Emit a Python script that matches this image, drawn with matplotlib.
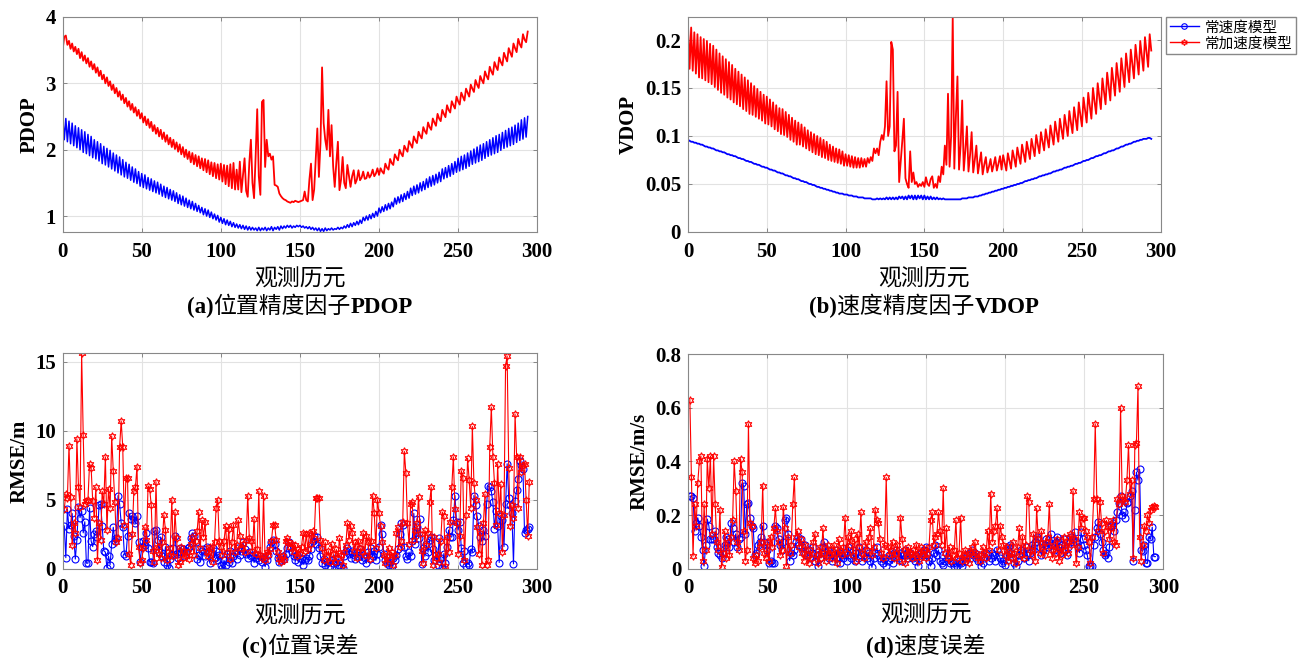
import numpy as np
import matplotlib
matplotlib.use('Agg')
import matplotlib.pyplot as plt
from matplotlib.lines import Line2D

FONT = ['Liberation Serif', 'Noto Sans CJK SC']
plt.rcParams['font.family'] = FONT

# 精度因子 (历元 0..294)
pdop_cv = [
    2.50, 2.15, 2.47, 2.12, 2.43, 2.09, 2.40, 2.06, 2.36, 2.03,
    2.33, 2.00, 2.30, 1.96, 2.27, 1.94, 2.23, 1.91, 2.20, 1.88,
    2.15, 1.86, 2.12, 1.83, 2.09, 1.79, 2.05, 1.77, 2.02, 1.74,
    1.99, 1.71, 1.95, 1.68, 1.92, 1.65, 1.89, 1.62, 1.85, 1.59,
    1.81, 1.57, 1.78, 1.54, 1.74, 1.51, 1.71, 1.49, 1.67, 1.45,
    1.64, 1.43, 1.62, 1.41, 1.58, 1.39, 1.56, 1.37, 1.53, 1.35,
    1.51, 1.33, 1.48, 1.30, 1.45, 1.28, 1.43, 1.26, 1.40, 1.24,
    1.38, 1.22, 1.35, 1.19, 1.32, 1.17, 1.30, 1.15, 1.27, 1.13,
    1.24, 1.11, 1.22, 1.09, 1.19, 1.07, 1.16, 1.05, 1.13, 1.02,
    1.11, 1.00, 1.09, 0.98, 1.06, 0.96, 1.03, 0.94, 1.01, 0.91,
    0.98, 0.89, 0.96, 0.87, 0.94, 0.86, 0.92, 0.84, 0.90, 0.83,
    0.88, 0.82, 0.87, 0.81, 0.86, 0.80, 0.85, 0.79, 0.84, 0.79,
    0.83, 0.79, 0.82, 0.78, 0.83, 0.78, 0.82, 0.79, 0.83, 0.78,
    0.82, 0.79, 0.84, 0.78, 0.83, 0.80, 0.84, 0.79, 0.85, 0.81,
    0.85, 0.82, 0.86, 0.83, 0.86, 0.82, 0.85, 0.83, 0.86, 0.84,
    0.86, 0.83, 0.85, 0.82, 0.84, 0.81, 0.84, 0.80, 0.83, 0.79,
    0.82, 0.78, 0.82, 0.77, 0.81, 0.77, 0.82, 0.78, 0.81, 0.79,
    0.82, 0.79, 0.81, 0.80, 0.83, 0.80, 0.83, 0.81, 0.85, 0.82,
    0.87, 0.83, 0.89, 0.84, 0.90, 0.86, 0.92, 0.87, 0.94, 0.89,
    0.98, 0.93, 1.00, 0.94, 1.02, 0.96, 1.04, 0.98, 1.07, 1.00,
    1.12, 1.05, 1.14, 1.07, 1.17, 1.09, 1.19, 1.11, 1.21, 1.14,
    1.27, 1.18, 1.29, 1.20, 1.32, 1.22, 1.34, 1.25, 1.37, 1.27,
    1.42, 1.31, 1.45, 1.33, 1.47, 1.35, 1.50, 1.38, 1.52, 1.40,
    1.56, 1.43, 1.59, 1.45, 1.61, 1.47, 1.63, 1.50, 1.66, 1.52,
    1.71, 1.56, 1.73, 1.58, 1.76, 1.60, 1.79, 1.63, 1.82, 1.66,
    1.87, 1.68, 1.90, 1.70, 1.92, 1.72, 1.95, 1.75, 1.98, 1.78,
    2.01, 1.80, 2.04, 1.82, 2.07, 1.84, 2.09, 1.87, 2.12, 1.90,
    2.15, 1.92, 2.18, 1.94, 2.21, 1.96, 2.23, 1.99, 2.26, 2.02,
    2.29, 2.04, 2.32, 2.06, 2.34, 2.08, 2.37, 2.11, 2.40, 2.14,
    2.45, 2.16, 2.48, 2.19, 2.50,
]
pdop_ca = [
    3.51, 3.70, 3.72, 3.58, 3.64, 3.52, 3.60, 3.48, 3.55, 3.44,
    3.52, 3.38, 3.47, 3.34, 3.42, 3.30, 3.38, 3.25, 3.33, 3.21,
    3.29, 3.16, 3.24, 3.11, 3.19, 3.06, 3.13, 3.00, 3.09, 2.96,
    3.03, 2.90, 2.98, 2.85, 2.93, 2.80, 2.88, 2.75, 2.83, 2.70,
    2.78, 2.65, 2.73, 2.60, 2.69, 2.56, 2.64, 2.51, 2.60, 2.47,
    2.55, 2.41, 2.50, 2.37, 2.46, 2.33, 2.42, 2.28, 2.37, 2.24,
    2.33, 2.20, 2.30, 2.16, 2.26, 2.12, 2.22, 2.08, 2.18, 2.04,
    2.15, 2.01, 2.11, 1.97, 2.08, 1.93, 2.04, 1.89, 2.00, 1.86,
    1.97, 1.81, 1.95, 1.78, 1.92, 1.75, 1.90, 1.72, 1.87, 1.69,
    1.86, 1.66, 1.84, 1.63, 1.81, 1.60, 1.80, 1.57, 1.78, 1.55,
    1.79, 1.52, 1.77, 1.48, 1.76, 1.45, 1.78, 1.42, 1.80, 1.40,
    1.70, 1.40, 1.82, 1.36, 1.62, 1.87, 1.38, 1.29, 1.80, 2.15,
    1.50, 1.27, 1.90, 2.61, 1.60, 1.32, 2.72, 2.75, 1.74, 2.15,
    1.90, 1.94, 1.85, 1.90, 1.47, 1.46, 1.44, 1.34, 1.30, 1.27,
    1.25, 1.24, 1.22, 1.21, 1.20, 1.22, 1.21, 1.23, 1.22, 1.21,
    1.22, 1.23, 1.24, 1.37, 1.24, 1.22, 1.55, 1.79, 1.24, 1.40,
    1.85, 2.32, 1.59, 2.10, 3.24, 2.40, 2.15, 2.00, 2.60, 1.90,
    2.37, 1.75, 1.44, 1.80, 2.12, 1.39, 1.55, 1.89, 1.50, 1.42,
    1.77, 1.60, 1.44, 1.60, 1.69, 1.49, 1.55, 1.69, 1.54, 1.58,
    1.67, 1.56, 1.57, 1.66, 1.58, 1.62, 1.70, 1.60, 1.64, 1.72,
    1.62, 1.72, 1.67, 1.64, 1.79, 1.73, 1.70, 1.86, 1.80, 1.77,
    1.93, 1.88, 1.84, 2.00, 1.94, 1.90, 2.06, 2.01, 1.97, 2.13,
    2.08, 2.03, 2.20, 2.14, 2.10, 2.27, 2.21, 2.17, 2.34, 2.28,
    2.24, 2.41, 2.34, 2.30, 2.47, 2.41, 2.36, 2.54, 2.47, 2.43,
    2.60, 2.54, 2.49, 2.67, 2.60, 2.56, 2.73, 2.67, 2.62, 2.80,
    2.73, 2.68, 2.86, 2.80, 2.74, 2.92, 2.86, 2.80, 2.98, 2.92,
    2.87, 3.05, 2.98, 2.93, 3.11, 3.05, 3.00, 3.18, 3.11, 3.06,
    3.25, 3.18, 3.13, 3.32, 3.25, 3.20, 3.39, 3.32, 3.27, 3.46,
    3.39, 3.33, 3.53, 3.46, 3.40, 3.60, 3.53, 3.47, 3.67, 3.59,
    3.54, 3.74, 3.66, 3.62, 3.78,
]
vdop_cv = [
    0.096, 0.095, 0.094, 0.094, 0.093, 0.093, 0.092, 0.092, 0.091, 0.091,
    0.090, 0.089, 0.089, 0.088, 0.088, 0.087, 0.087, 0.086, 0.085, 0.085,
    0.084, 0.084, 0.083, 0.083, 0.082, 0.081, 0.081, 0.080, 0.080, 0.079,
    0.079, 0.078, 0.077, 0.077, 0.076, 0.076, 0.075, 0.074, 0.074, 0.073,
    0.073, 0.072, 0.071, 0.071, 0.070, 0.070, 0.069, 0.068, 0.068, 0.067,
    0.067, 0.066, 0.065, 0.065, 0.064, 0.064, 0.063, 0.062, 0.062, 0.061,
    0.061, 0.060, 0.059, 0.059, 0.058, 0.058, 0.057, 0.056, 0.056, 0.055,
    0.055, 0.054, 0.053, 0.053, 0.052, 0.052, 0.051, 0.050, 0.050, 0.049,
    0.049, 0.048, 0.047, 0.047, 0.046, 0.046, 0.045, 0.045, 0.044, 0.044,
    0.043, 0.043, 0.042, 0.042, 0.041, 0.041, 0.040, 0.040, 0.040, 0.039,
    0.039, 0.039, 0.038, 0.038, 0.038, 0.037, 0.037, 0.037, 0.036, 0.036,
    0.036, 0.036, 0.035, 0.035, 0.035, 0.035, 0.035, 0.034, 0.034, 0.034,
    0.035, 0.034, 0.035, 0.034, 0.035, 0.034, 0.036, 0.034, 0.036, 0.034,
    0.036, 0.034, 0.036, 0.034, 0.037, 0.035, 0.037, 0.034, 0.037, 0.034,
    0.038, 0.035, 0.038, 0.034, 0.038, 0.034, 0.038, 0.035, 0.038, 0.034,
    0.038, 0.034, 0.037, 0.034, 0.037, 0.034, 0.036, 0.034, 0.036, 0.034,
    0.035, 0.034, 0.035, 0.034, 0.034, 0.034, 0.034, 0.034, 0.034, 0.034,
    0.034, 0.034, 0.034, 0.034, 0.035, 0.035, 0.035, 0.035, 0.036, 0.036,
    0.036, 0.036, 0.037, 0.037, 0.037, 0.038, 0.038, 0.039, 0.039, 0.040,
    0.040, 0.041, 0.041, 0.042, 0.042, 0.043, 0.043, 0.044, 0.044, 0.045,
    0.045, 0.046, 0.046, 0.047, 0.047, 0.048, 0.048, 0.049, 0.049, 0.050,
    0.050, 0.051, 0.051, 0.052, 0.053, 0.053, 0.054, 0.054, 0.055, 0.055,
    0.056, 0.056, 0.057, 0.058, 0.058, 0.059, 0.059, 0.060, 0.060, 0.061,
    0.061, 0.062, 0.063, 0.063, 0.064, 0.064, 0.065, 0.065, 0.066, 0.067,
    0.067, 0.068, 0.068, 0.069, 0.069, 0.070, 0.071, 0.071, 0.072, 0.072,
    0.073, 0.074, 0.074, 0.075, 0.075, 0.076, 0.077, 0.077, 0.078, 0.079,
    0.079, 0.080, 0.080, 0.081, 0.082, 0.082, 0.083, 0.084, 0.084, 0.085,
    0.085, 0.086, 0.087, 0.087, 0.088, 0.089, 0.089, 0.090, 0.091, 0.091,
    0.092, 0.092, 0.093, 0.094, 0.094, 0.095, 0.095, 0.096, 0.096, 0.097,
    0.097, 0.097, 0.098, 0.098, 0.097,
]
vdop_ca = [
    0.215, 0.170, 0.213, 0.168, 0.208, 0.165, 0.206, 0.161, 0.203, 0.160,
    0.201, 0.158, 0.199, 0.156, 0.196, 0.154, 0.194, 0.151, 0.190, 0.148,
    0.186, 0.145, 0.183, 0.143, 0.180, 0.140, 0.177, 0.138, 0.174, 0.135,
    0.170, 0.133, 0.167, 0.131, 0.164, 0.128, 0.161, 0.126, 0.158, 0.123,
    0.155, 0.122, 0.152, 0.120, 0.149, 0.118, 0.146, 0.116, 0.143, 0.113,
    0.141, 0.112, 0.138, 0.110, 0.135, 0.107, 0.132, 0.105, 0.129, 0.102,
    0.128, 0.101, 0.125, 0.099, 0.122, 0.096, 0.119, 0.094, 0.116, 0.091,
    0.114, 0.091, 0.112, 0.089, 0.109, 0.087, 0.106, 0.085, 0.104, 0.083,
    0.102, 0.081, 0.100, 0.080, 0.098, 0.078, 0.096, 0.077, 0.094, 0.075,
    0.091, 0.074, 0.089, 0.073, 0.087, 0.072, 0.086, 0.071, 0.084, 0.069,
    0.081, 0.069, 0.080, 0.068, 0.079, 0.067, 0.078, 0.067, 0.077, 0.067,
    0.077, 0.068, 0.076, 0.068, 0.077, 0.072, 0.078, 0.074, 0.087, 0.082,
    0.087, 0.080, 0.094, 0.101, 0.096, 0.110, 0.157, 0.100, 0.110, 0.198,
    0.190, 0.084, 0.090, 0.146, 0.052, 0.073, 0.095, 0.118, 0.056, 0.050,
    0.046, 0.084, 0.052, 0.062, 0.050, 0.052, 0.047, 0.050, 0.048, 0.052,
    0.047, 0.057, 0.050, 0.048, 0.055, 0.058, 0.046, 0.050, 0.046, 0.058,
    0.052, 0.068, 0.060, 0.090, 0.070, 0.144, 0.068, 0.100, 0.224, 0.066,
    0.120, 0.162, 0.065, 0.090, 0.137, 0.064, 0.085, 0.110, 0.063, 0.080,
    0.104, 0.062, 0.075, 0.090, 0.061, 0.072, 0.083, 0.060, 0.070, 0.078,
    0.062, 0.068, 0.076, 0.063, 0.070, 0.078, 0.064, 0.071, 0.079, 0.065,
    0.080, 0.072, 0.064, 0.082, 0.074, 0.066, 0.085, 0.077, 0.068, 0.088,
    0.079, 0.071, 0.091, 0.082, 0.073, 0.094, 0.085, 0.076, 0.097, 0.088,
    0.079, 0.101, 0.091, 0.082, 0.104, 0.094, 0.085, 0.107, 0.097, 0.088,
    0.111, 0.101, 0.091, 0.115, 0.104, 0.094, 0.118, 0.107, 0.097, 0.122,
    0.111, 0.100, 0.126, 0.114, 0.103, 0.130, 0.118, 0.106, 0.135, 0.122,
    0.110, 0.140, 0.127, 0.114, 0.145, 0.131, 0.118, 0.150, 0.136, 0.123,
    0.155, 0.141, 0.128, 0.160, 0.146, 0.133, 0.166, 0.151, 0.137, 0.171,
    0.156, 0.142, 0.176, 0.161, 0.146, 0.181, 0.166, 0.151, 0.186, 0.171,
    0.156, 0.190, 0.175, 0.160, 0.195, 0.179, 0.164, 0.199, 0.183, 0.168,
    0.203, 0.187, 0.172, 0.206, 0.189,
]

# 误差 (历元 1..295)
pos_cv = [
    3.1, 0.8, 4.3, 2.9, 3.2, 4.0, 2.4, 0.7, 2.1, 4.5,
    3.7, 4.2, 2.6, 3.4, 0.4, 0.4, 4.4, 2.0, 1.6, 2.5,
    2.7, 2.3, 4.6, 4.7, 3.1, 1.3, 1.2, 0.05, 0.9, 0.3,
    1.8, 3.0, 2.0, 2.2, 5.3, 4.7, 3.3, 3.0, 1.1, 0.9,
    2.4, 4.0, 3.6, 3.8, 3.5, 3.3, 3.8, 1.9, 0.5, 1.6,
    2.0, 1.7, 2.6, 1.5, 0.5, 0.5, 0.4, 2.7, 2.8, 2.1,
    1.2, 2.3, 0.9, 0.5, 1.6, 0.3, 0.05, 0.7, 1.0, 1.5,
    2.4, 1.1, 0.8, 1.5, 1.2, 1.4, 0.9, 1.3, 1.5, 1.6,
    2.2, 2.6, 2.4, 1.9, 0.7, 1.0, 0.5, 1.3, 1.4, 0.9,
    1.6, 1.2, 0.4, 1.1, 1.5, 0.8, 1.3, 0.6, 1.0, 0.3,
    0.05, 0.6, 0.3, 1.1, 0.5, 1.3, 0.4, 0.9, 1.2, 0.7,
    1.5, 1.0, 1.3, 1.9, 1.4, 1.1, 0.8, 1.2, 0.9, 1.0,
    0.45, 0.8, 1.0, 0.6, 0.9, 0.5, 0.7, 0.15, 0.6, 1.0,
    1.6, 1.9, 2.1, 1.8, 1.3, 0.8, 0.5, 0.6, 0.9, 0.7,
    1.1, 1.5, 1.9, 1.6, 1.2, 0.9, 0.6, 1.0, 0.5, 0.8,
    0.7, 0.3, 0.6, 0.8, 0.6, 0.9, 1.4, 2.0, 2.4, 1.8,
    2.3, 1.5, 0.9, 0.4, 0.7, 0.3, 0.5, 0.15, 0.2, 0.6,
    0.4, 0.8, 0.5, 0.2, 0.3, 0.1, 0.05, 0.9, 1.3, 1.5,
    1.1, 0.8, 1.3, 1.0, 0.7, 1.2, 0.9, 1.4, 0.6, 1.0,
    0.8, 0.4, 1.2, 0.7, 1.5, 0.9, 1.3, 0.6, 1.1, 1.6,
    3.2, 2.5, 1.1, 0.6, 0.4, 0.3, 0.5, 0.2, 0.8, 0.6,
    1.0, 1.4, 2.5, 3.3, 3.2, 1.6, 0.9, 0.7, 1.2, 0.9,
    2.0, 4.0, 1.8, 3.0, 2.2, 3.6, 0.35, 1.5, 0.9, 1.8,
    1.2, 2.1, 2.3, 1.4, 0.6, 1.0, 0.3, 2.2, 0.8, 0.05,
    1.1, 0.4, 1.6, 2.8, 2.3, 2.3, 3.5, 5.3, 3.4, 2.8,
    3.4, 1.5, 0.45, 1.3, 0.2, 0.4, 0.3, 1.4, 1.2, 5.3,
    4.6, 3.8, 3.1, 2.3, 2.0, 2.8, 2.4, 4.7, 6.0, 5.9,
    5.6, 4.8, 2.9, 4.2, 3.1, 0.45, 3.8, 3.5, 1.6, 4.7,
    7.6, 5.1, 4.6, 4.0, 0.35, 4.9, 5.7, 6.5, 7.8, 7.5,
    7.2, 2.6, 2.8, 2.9, 3.0,
]
pos_ca = [
    4.3, 5.4, 5.1, 8.9, 5.2, 1.7, 3.3, 2.6, 9.4, 5.9,
    4.5, 15.6, 9.7, 4.7, 4.9, 5.0, 7.6, 7.3, 4.9, 3.7,
    5.9, 0.6, 3.3, 2.1, 5.6, 4.7, 8.1, 2.8, 5.8, 4.4,
    9.6, 7.1, 4.8, 1.9, 2.2, 8.8, 10.7, 8.8, 3.2, 6.6,
    6.6, 1.1, 0.3, 2.5, 5.6, 5.9, 7.4, 1.6, 0.4, 0.6,
    1.5, 3.0, 2.1, 6.0, 5.8, 4.6, 1.3, 0.5, 6.3, 1.6,
    1.1, 0.8, 1.9, 3.9, 2.8, 0.6, 1.0, 1.5, 5.0, 0.9,
    4.1, 2.2, 0.3, 0.5, 1.6, 0.8, 1.3, 0.9, 1.2, 0.7,
    1.8, 2.3, 1.0, 2.0, 2.7, 4.1, 1.5, 3.5, 2.3, 3.4,
    1.2, 0.9, 1.6, 1.4, 0.5, 1.9, 4.4, 5.0, 2.0, 1.6,
    1.0, 2.0, 3.1, 1.2, 2.9, 0.7, 1.9, 3.2, 1.2, 1.7,
    3.5, 2.4, 1.5, 1.8, 1.2, 2.1, 5.3, 2.2, 2.0, 1.3,
    3.6, 1.1, 1.4, 5.6, 1.0, 0.8, 5.3, 0.6, 1.2, 1.0,
    1.4, 2.0, 3.2, 3.2, 2.1, 1.2, 0.7, 0.5, 0.9, 0.6,
    2.0, 2.2, 1.9, 1.6, 1.8, 1.2, 1.7, 0.9, 1.4, 1.1,
    1.6, 2.6, 1.3, 2.5, 1.4, 2.6, 1.8, 2.7, 2.2, 5.1,
    5.1, 5.1, 2.1, 1.5, 0.6, 1.9, 0.9, 1.3, 0.5, 1.8,
    1.1, 0.5, 1.4, 0.8, 2.2, 1.0, 0.3, 1.2, 1.7, 3.3,
    2.1, 3.1, 2.6, 1.3, 1.9, 0.8, 2.0, 1.5, 1.2, 2.6,
    1.0, 2.4, 1.9, 0.7, 2.0, 5.3, 4.0, 1.5, 5.0, 4.0,
    3.1, 1.9, 1.0, 0.4, 0.9, 1.5, 0.7, 1.2, 0.3, 1.0,
    2.6, 3.0, 1.6, 2.0, 3.4, 8.5, 6.9, 3.3, 1.8, 4.7,
    4.8, 2.1, 2.8, 3.3, 5.2, 2.5, 1.3, 0.4, 2.8, 1.7,
    2.6, 4.8, 5.9, 0.3, 2.3, 0.8, 1.1, 0.5, 2.0, 4.1,
    3.8, 0.2, 2.3, 1.2, 3.4, 5.9, 8.1, 4.3, 3.3, 1.1,
    2.4, 7.1, 6.6, 0.6, 3.9, 8.0, 6.4, 4.4, 10.3, 6.2,
    5.0, 3.0, 1.1, 2.6, 0.3, 3.3, 5.4, 0.3, 0.6, 8.8,
    11.7, 8.1, 6.2, 3.2, 7.6, 4.0, 6.1, 1.2, 3.9, 14.7,
    15.4, 7.3, 3.1, 4.6, 3.7, 11.2, 8.1, 4.4, 8.1, 7.0,
    7.5, 7.6, 5.0, 2.4, 6.3,
]
vel_cv = [
    0.27, 0.27, 0.265, 0.14, 0.17, 0.19, 0.16, 0.12, 0.07, 0.01,
    0.09, 0.185, 0.16, 0.11, 0.11, 0.11, 0.14, 0.08, 0.06, 0.05,
    0.04, 0.06, 0.09, 0.12, 0.11, 0.08, 0.17, 0.15, 0.10, 0.13,
    0.08, 0.11, 0.12, 0.32, 0.31, 0.13, 0.24, 0.245, 0.19, 0.16,
    0.15, 0.05, 0.06, 0.09, 0.10, 0.12, 0.16, 0.10, 0.09, 0.07,
    0.02, 0.03, 0.02, 0.02, 0.16, 0.15, 0.11, 0.09, 0.07, 0.10,
    0.18, 0.19, 0.13, 0.03, 0.06, 0.05, 0.07, 0.10, 0.12, 0.09,
    0.11, 0.08, 0.06, 0.09, 0.05, 0.07, 0.04, 0.06, 0.08, 0.03,
    0.05, 0.01, 0.04, 0.06, 0.08, 0.10, 0.05, 0.07, 0.04, 0.06,
    0.03, 0.05, 0.07, 0.04, 0.06, 0.02, 0.05, 0.04, 0.06, 0.03,
    0.08, 0.05, 0.04, 0.07, 0.03, 0.06, 0.04, 0.08, 0.05, 0.03,
    0.05, 0.07, 0.04, 0.06, 0.03, 0.005, 0.04, 0.06, 0.08, 0.05,
    0.04, 0.03, 0.02, 0.04, 0.01, 0.03, 0.05, 0.04, 0.02, 0.06,
    0.07, 0.05, 0.04, 0.06, 0.03, 0.05, 0.07, 0.05, 0.04, 0.06,
    0.05, 0.04, 0.03, 0.05, 0.01, 0.04, 0.06, 0.05, 0.07, 0.08,
    0.05, 0.03, 0.01, 0.04, 0.06, 0.09, 0.05, 0.07, 0.03, 0.02,
    0.015, 0.03, 0.06, 0.04, 0.02, 0.03, 0.02, 0.01, 0.02, 0.01,
    0.03, 0.02, 0.01, 0.04, 0.03, 0.05, 0.06, 0.04, 0.07, 0.05,
    0.06, 0.04, 0.03, 0.05, 0.01, 0.02, 0.04, 0.06, 0.05, 0.03,
    0.04, 0.06, 0.05, 0.03, 0.07, 0.05, 0.04, 0.02, 0.03, 0.015,
    0.05, 0.08, 0.09, 0.06, 0.04, 0.02, 0.01, 0.03, 0.05, 0.07,
    0.06, 0.04, 0.08, 0.05, 0.03, 0.06, 0.09, 0.07, 0.10, 0.12,
    0.11, 0.08, 0.05, 0.07, 0.09, 0.11, 0.08, 0.10, 0.13, 0.09,
    0.07, 0.10, 0.12, 0.08, 0.06, 0.09, 0.11, 0.07, 0.05, 0.08,
    0.10, 0.12, 0.11, 0.135, 0.10, 0.08, 0.06, 0.135, 0.11, 0.09,
    0.07, 0.05, 0.01, 0.01, 0.01, 0.09, 0.12, 0.15, 0.175, 0.13,
    0.10, 0.07, 0.05, 0.06, 0.04, 0.08, 0.16, 0.17, 0.14, 0.18,
    0.21, 0.245, 0.27, 0.20, 0.21, 0.19, 0.245, 0.25, 0.27, 0.29,
    0.03, 0.22, 0.36, 0.33, 0.37, 0.07, 0.065, 0.09, 0.02, 0.02,
    0.12, 0.11, 0.155, 0.045, 0.045,
]
vel_ca = [
    0.63, 0.34, 0.047, 0.24, 0.16, 0.32, 0.40, 0.42, 0.03, 0.24,
    0.07, 0.41, 0.30, 0.42, 0.13, 0.42, 0.24, 0.10, 0.07, 0.22,
    0.005, 0.06, 0.14, 0.04, 0.10, 0.05, 0.12, 0.18, 0.40, 0.29,
    0.10, 0.07, 0.41, 0.36, 0.14, 0.03, 0.07, 0.54, 0.17, 0.16,
    0.04, 0.02, 0.05, 0.03, 0.08, 0.10, 0.31, 0.06, 0.04, 0.10,
    0.03, 0.12, 0.08, 0.15, 0.225, 0.14, 0.10, 0.05, 0.07, 0.23,
    0.15, 0.01, 0.12, 0.06, 0.09, 0.24, 0.34, 0.12, 0.14, 0.08,
    0.11, 0.06, 0.03, 0.09, 0.05, 0.02, 0.07, 0.04, 0.10, 0.13,
    0.05, 0.02, 0.08, 0.04, 0.15, 0.06, 0.03, 0.09, 0.05, 0.07,
    0.04, 0.09, 0.06, 0.02, 0.11, 0.07, 0.05, 0.08, 0.19, 0.06,
    0.12, 0.09, 0.14, 0.05, 0.11, 0.03, 0.13, 0.08, 0.21, 0.06,
    0.04, 0.10, 0.07, 0.12, 0.15, 0.05, 0.08, 0.22, 0.18, 0.17,
    0.11, 0.06, 0.04, 0.09, 0.34, 0.08, 0.05, 0.07, 0.10, 0.04,
    0.06, 0.09, 0.03, 0.19, 0.11, 0.07, 0.02, 0.05, 0.08, 0.06,
    0.04, 0.07, 0.05, 0.09, 0.06, 0.03, 0.08, 0.05, 0.07, 0.04,
    0.06, 0.08, 0.18, 0.21, 0.09, 0.12, 0.13, 0.21, 0.14, 0.09,
    0.30, 0.06, 0.15, 0.04, 0.08, 0.03, 0.05, 0.07, 0.18, 0.04,
    0.06, 0.19, 0.03, 0.05, 0.07, 0.04, 0.02, 0.06, 0.08, 0.05,
    0.10, 0.06, 0.04, 0.03, 0.05, 0.08, 0.06, 0.04, 0.14, 0.07,
    0.28, 0.10, 0.14, 0.16, 0.225, 0.07, 0.16, 0.12, 0.09, 0.05,
    0.08, 0.03, 0.06, 0.04, 0.10, 0.06, 0.02, 0.08, 0.15, 0.05,
    0.12, 0.04, 0.09, 0.27, 0.25, 0.07, 0.05, 0.13, 0.03, 0.225,
    0.11, 0.06, 0.14, 0.08, 0.05, 0.10, 0.12, 0.24, 0.07, 0.04,
    0.09, 0.06, 0.11, 0.03, 0.08, 0.05, 0.12, 0.07, 0.10, 0.06,
    0.13, 0.09, 0.29, 0.11, 0.02, 0.08, 0.21, 0.15, 0.19, 0.19,
    0.14, 0.12, 0.10, 0.02, 0.12, 0.26, 0.54, 0.26, 0.14, 0.25,
    0.17, 0.06, 0.14, 0.18, 0.16, 0.11, 0.15, 0.18, 0.10, 0.09,
    0.26, 0.24, 0.60, 0.27, 0.26, 0.25, 0.33, 0.46, 0.28, 0.33,
    0.04, 0.46, 0.47, 0.68, 0.12, 0.03, 0.09, 0.16, 0.14, 0.20,
    0.17, 0.22, 0.23, 0.235, 0.23,
]

xticks = [0, 50, 100, 150, 200, 250, 300]
BLUE = '#0000ff'
RED = '#ff0000'
STAR = (6, 1, 0)   # 六角星


def style_axes(ax, ylim, yticks, ylabels, ylabel):
    ax.set_xlim(0, 300)
    ax.set_ylim(*ylim)
    ax.set_xticks(xticks)
    ax.set_xticklabels([str(t) for t in xticks], fontsize=15, fontweight='bold')
    ax.set_yticks(yticks)
    ax.set_yticklabels(ylabels, fontsize=15, fontweight='bold')
    ax.set_ylabel(ylabel, fontsize=15, fontweight='bold', labelpad=4)
    ax.grid(True, color='#e2e2e2', linewidth=0.8)
    ax.set_axisbelow(True)
    ax.tick_params(direction='in', top=True, right=True, length=3, width=0.6,
                   color='#777777', labelcolor='black', pad=5)
    ax.tick_params(axis='x', pad=7)
    for s in ax.spines.values():
        s.set_color('#888888')
        s.set_linewidth(0.8)
    ax.text(0.5, -0.222, '观测历元', transform=ax.transAxes, fontsize=16.5,
            ha='center', va='center')


def mixed_title(ax, parts, y):
    # 把粗体英文和常规中文拼成一行并居中
    r = fig.canvas.get_renderer()
    txts = [ax.text(0, y, s, transform=ax.transAxes, fontsize=16.5, fontweight=w,
                    ha='left', va='baseline') for s, w in parts]
    widths = [t.get_window_extent(r).width for t in txts]
    axw = ax.get_window_extent(r).width
    x = 0.5 - sum(widths) / axw / 2
    for t, w in zip(txts, widths):
        t.set_x(x)
        x += w / axw


fig = plt.figure(figsize=(13.08, 6.6), dpi=100)
ax_a = fig.add_axes([0.0479, 0.6485, 0.3628, 0.3258])
ax_b = fig.add_axes([0.5260, 0.6485, 0.3614, 0.3258])
ax_c = fig.add_axes([0.0479, 0.1383, 0.3628, 0.3265])
ax_d = fig.add_axes([0.5262, 0.1383, 0.3632, 0.3253])

# (a) PDOP
ax_a.plot(np.arange(len(pdop_cv)), pdop_cv, color=BLUE, lw=1.1)
ax_a.plot(np.arange(len(pdop_ca)), pdop_ca, color=RED, lw=1.3)
style_axes(ax_a, (0.76, 4), [1, 2, 3, 4], ['1', '2', '3', '4'], 'PDOP')

# (b) VDOP
ax_b.plot(np.arange(len(vdop_cv)), vdop_cv, color=BLUE, lw=1.3)
ax_b.plot(np.arange(len(vdop_ca)), vdop_ca, color=RED, lw=1.3)
style_axes(ax_b, (0, 0.224), [0, 0.05, 0.1, 0.15, 0.2],
           ['0', '0.05', '0.1', '0.15', '0.2'], 'VDOP')

# (c) 位置误差
ax_c.plot(np.arange(1, len(pos_cv) + 1), pos_cv, color=BLUE, lw=0.8,
          marker='o', ms=5, mfc='none', mew=0.8)
ax_c.plot(np.arange(1, len(pos_ca) + 1), pos_ca, color=RED, lw=0.8,
          marker=STAR, ms=5.5, mfc='none', mew=0.8)
style_axes(ax_c, (0, 15.6), [0, 5, 10, 15], ['0', '5', '10', '15'], 'RMSE/m')

# (d) 速度误差
ax_d.plot(np.arange(1, len(vel_cv) + 1), vel_cv, color=BLUE, lw=0.8,
          marker='o', ms=5, mfc='none', mew=0.8)
ax_d.plot(np.arange(1, len(vel_ca) + 1), vel_ca, color=RED, lw=0.8,
          marker=STAR, ms=5.5, mfc='none', mew=0.8)
style_axes(ax_d, (0, 0.8), [0, 0.2, 0.4, 0.6, 0.8],
           ['0', '0.2', '0.4', '0.6', '0.8'], 'RMSE/m/s')

mixed_title(ax_a, [('(a)', 'bold'), ('位置精度因子', 'normal'), ('PDOP', 'bold')], -0.377)
mixed_title(ax_b, [('(b)', 'bold'), ('速度精度因子', 'normal'), ('VDOP', 'bold')], -0.377)
mixed_title(ax_c, [('(c)', 'bold'), ('位置误差', 'normal')], -0.391)
mixed_title(ax_d, [('(d)', 'bold'), ('速度误差', 'normal')], -0.391)

handles = [Line2D([], [], color=BLUE, lw=1.0, marker='o', ms=4, mfc='none', mew=0.8),
           Line2D([], [], color=RED, lw=1.0, marker=STAR, ms=4.5, mfc='none', mew=0.8)]
fig.legend(handles, ['常速度模型', '常加速度模型'], loc='upper left',
           bbox_to_anchor=(0.8914, 0.9742), prop={'family': FONT, 'size': 10.5},
           frameon=True, fancybox=False, edgecolor='#888888', framealpha=1,
           borderpad=0.25, handlelength=2.0, handletextpad=0.4, labelspacing=0.15,
           borderaxespad=0)

fig.savefig('out.png', dpi=100)
